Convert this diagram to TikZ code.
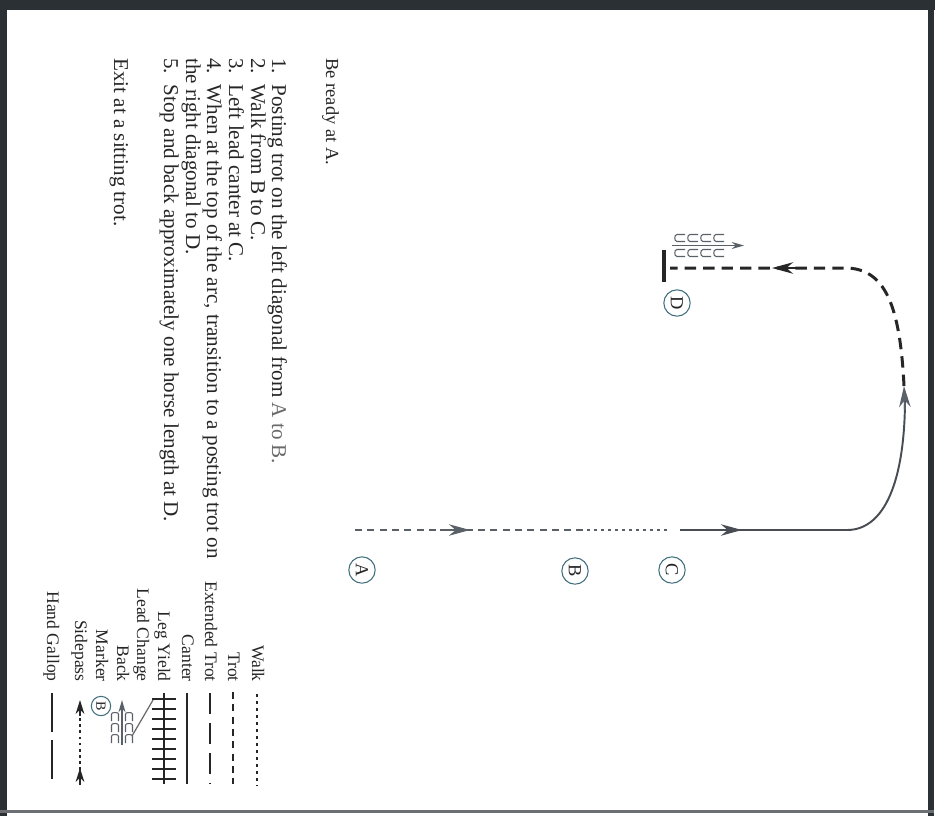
\documentclass[tikz,border=0pt]{standalone}
\usepackage{fontspec}
\setmainfont{Liberation Serif}
\usetikzlibrary{arrows.meta}
\definecolor{ink}{HTML}{262626}
\definecolor{softink}{HTML}{6A6A6A}
\definecolor{markc}{HTML}{3F6E7C}
\definecolor{pathgray}{HTML}{5A6068}
\definecolor{framec}{HTML}{2B3035}
\begin{document}
\begin{tikzpicture}[x=0.2mm,y=-0.2mm,
  txt/.style={rotate=-90,anchor=base west,inner sep=0pt,font=\fontsize{12}{12}\selectfont,text=ink},
  lab/.style={rotate=-90,anchor=base east,inner sep=0pt,font=\fontsize{10}{10}\selectfont,text=ink},
  markernode/.style={circle,draw=markc,line width=0.6pt,minimum size=15pt,inner sep=0pt,rotate=-90,text=ink,font=\fontsize{10.5}{10.5}\selectfont},
  dart/.style={-{Stealth[length=12pt,width=6.5pt]}},
  trotline/.style={line width=1.1pt,dash pattern=on 4pt off 3pt},
  walkline/.style={line width=1.1pt,dash pattern=on 1.6pt off 2.4pt},
  extline/.style={line width=1.1pt,dash pattern=on 12pt off 5pt},
  gallopline/.style={line width=1.1pt,dash pattern=on 22pt off 5pt},
  cupc/.style={draw=pathgray,line width=0.6pt}
]
\useasboundingbox (0,0) rectangle (944,816);
\fill[white] (0,0) rectangle (944,816);
% frame
\fill[framec] (0,0) rectangle (7,816);
\fill[framec] (0,0) rectangle (935,10);
\fill[framec] (928,0) rectangle (934,816);
\fill[framec!70] (0,810) rectangle (934,813);

% instructions
\node[txt,font=\fontsize{10.5}{10.5}\selectfont] (ready) at (326,58) {Be ready at A.};
\node[txt] (s1) at (272,58) {1.\ \ Posting trot on the left diagonal from {\color{softink}A to B.}};
\node[txt] (s2) at (251,58) {2.\ \ Walk from B to C.};
\node[txt] (s3) at (229,58) {3.\ \ Left lead canter at C.};
\node[txt] (s4) at (207,58) {4.\ \ When at the top of the arc, transition to a posting trot on};
\node[txt] (s4b) at (186,58) {the right diagonal to D.};
\node[txt] (s5) at (164,58) {5.\ \ Stop and back approximately one horse length at D.};
\node[txt] (exit) at (114,58) {Exit at a sitting trot.};

% markers
\node[markernode] (A) at (362,570) {A};
\node[markernode] (B) at (575,571) {B};
\node[markernode] (C) at (672,570) {C};
\node[markernode] (D) at (677,303) {D};

% pattern coordinates
\coordinate (pA) at (355,530);
\coordinate (pB) at (587,530);
\coordinate (pC) at (668,530);
\coordinate (pC2) at (680,530);
\coordinate (pTurn) at (847,530);
\coordinate (pTop) at (905,398);
\coordinate (pBend) at (845,268);
\coordinate (pD) at (670,268);

% A to B (trot)
\draw[pathgray,trotline] (pA) -- (pB);
\draw[pathgray,line width=1.1pt,dart] (440,530) -- (470,530);
% B to C (walk)
\draw[pathgray,walkline] (pB) -- (pC);
% canter from C
\draw[pathgray!80!black,line width=1.1pt] (pC2) -- (pTurn) .. controls (885,530) and (905,480) .. (pTop);
\draw[pathgray!80!black,line width=1.1pt,dart] (716,530) -- (742,530);
\draw[pathgray,line width=1.1pt,dart] (905,410) -- (904,386);
% trot to D
\draw[ink,line width=1.7pt,dash pattern=on 6.5pt off 4pt] (904,386) .. controls (900,305) and (885,268) .. (pBend) -- (pD);
\draw[ink,line width=1.5pt,dart] (800,268) -- (772,268);
% stop bar
\draw[ink,line width=1.8pt] (664,250) -- (664,282);
% back symbol
\foreach \r in {238,253}{
  \foreach \i in {0,1,2,3}{
    \draw[cupc] ({674+\i*13+11},\r-3.5) -- ({674+\i*13+3},\r-3.5) .. controls ({674+\i*13},\r-3.5) and ({674+\i*13},\r+3.5) .. ({674+\i*13+3},\r+3.5) -- ({674+\i*13+11},\r+3.5);
  }
}
\draw[pathgray,line width=0.8pt,-{Stealth[length=7pt,width=4pt]}] (672,245.5) -- (744,245.5);

% legend
\node[lab] (lw) at (252,682) {Walk};
\node[lab] (lt) at (228,682) {Trot};
\node[lab] (le) at (205,682) {Extended Trot};
\node[lab] (lc) at (182,682) {Canter};
\node[lab] (ly) at (158,682) {Leg Yield};
\node[lab] (ll) at (137,682) {Lead Change};
\node[lab] (lb) at (117,682) {Back};
\node[lab] (lm) at (96,682) {Marker};
\node[lab] (ls) at (75,682) {Sidepass};
\node[lab] (lg) at (47,682) {Hand Gallop};

\coordinate (w0) at (257,694); \coordinate (w1) at (257,786);
\draw[ink,walkline] (w0) -- (w1);
\coordinate (t0) at (233,692); \coordinate (t1) at (233,784);
\draw[ink,trotline] (t0) -- (t1);
\coordinate (e0) at (210,693); \coordinate (e1) at (210,784);
\draw[ink,extline] (e0) -- (e1);
\coordinate (c0) at (187,693); \coordinate (c1) at (187,784);
\draw[ink,line width=1.1pt] (c0) -- (c1);
\coordinate (y0) at (164,693); \coordinate (y1) at (164,784);
\draw[ink,line width=1.1pt] (y0) -- (y1);
\foreach \k in {0,...,8}{\draw[ink,line width=0.9pt] (152,{699+\k*10}) -- (176,{699+\k*10});}
\coordinate (lc0) at (132,736); \coordinate (lc1) at (153,700);
\draw[softink,line width=0.7pt] (lc0) -- (lc1);
% legend back
\draw[pathgray,line width=0.8pt,-{Stealth[length=7pt,width=4pt]}] (122,745) -- (122,700);
\foreach \c in {115,129}{
  \foreach \i in {0,1,2}{
    \draw[cupc] (\c-3.5,{712+\i*11+9}) -- (\c-3.5,{712+\i*11+2}) .. controls (\c-3.5,{712+\i*11}) and (\c+3.5,{712+\i*11}) .. (\c+3.5,{712+\i*11+2}) -- (\c+3.5,{712+\i*11+9});
  }
}
\node[markernode,minimum size=11pt,font=\fontsize{8}{8}\selectfont] (mB) at (101,706) {B};
% sidepass
\coordinate (sp0) at (80,770); \coordinate (sp1) at (80,712);
\draw[ink,line width=1pt,dash pattern=on 1.5pt off 2pt] (sp0) -- (sp1);
\draw[ink,line width=1pt,-{Stealth[length=8pt,width=5pt]}] (80,716) -- (80,700);
\draw[ink,line width=1pt,-{Stealth[length=8pt,width=5pt]}] (80,785) -- (80,768);
% hand gallop
\coordinate (g0) at (52,693); \coordinate (g1) at (52,784);
\draw[ink,gallopline] (g0) -- (g1);
\end{tikzpicture}
\end{document}
